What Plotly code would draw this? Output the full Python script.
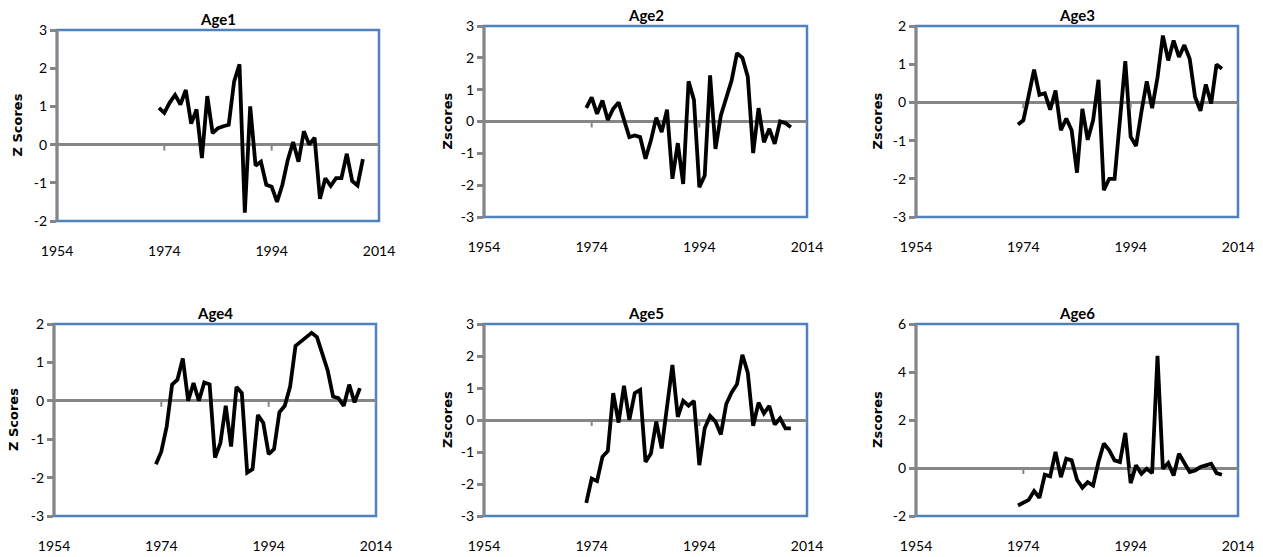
import plotly.graph_objects as go

# ----------------------------------------------------------------------
# data (z scores per age class, 1973-2011)
years = [1973, 1974, 1975, 1976, 1977, 1978, 1979, 1980, 1981, 1982,
         1983, 1984, 1985, 1986, 1987, 1988, 1989, 1990, 1991, 1992,
         1993, 1994, 1995, 1996, 1997, 1998, 1999, 2000, 2001, 2002,
         2003, 2004, 2005, 2006, 2007, 2008, 2009, 2010, 2011]

age1 = [0.96, 0.83, 1.1, 1.3, 1.05, 1.43, 0.55, 0.92, -0.35, 1.27,
        0.3, 0.43, 0.48, 0.52, 1.65, 2.1, -1.78, 1.0, -0.55, -0.45,
        -1.05, -1.1, -1.5, -1.05, -0.4, 0.07, -0.45, 0.35, 0.0, 0.18,
        -1.42, -0.88, -1.08, -0.88, -0.88, -0.24, -0.95, -1.07, -0.38]

age2 = [0.43, 0.76, 0.24, 0.66, 0.05, 0.4, 0.6, 0.08, -0.49, -0.44,
        -0.49, -1.17, -0.6, 0.12, -0.33, 0.37, -1.8, -0.68, -1.96, 1.26,
        0.68, -2.06, -1.7, 1.45, -0.86, 0.19, 0.76, 1.29, 2.15, 2.0,
        1.41, -0.99, 0.42, -0.65, -0.23, -0.7, 0.0, -0.05, -0.18]

age3 = [-0.58, -0.47, 0.18, 0.86, 0.2, 0.24, -0.19, 0.31, -0.73, -0.42,
        -0.73, -1.84, -0.17, -0.98, -0.47, 0.59, -2.3, -2.0, -2.0, -0.45,
        1.08, -0.9, -1.14, -0.25, 0.55, -0.15, 0.65, 1.75, 1.1, 1.62,
        1.19, 1.5, 1.14, 0.14, -0.22, 0.47, -0.03, 0.99, 0.88]

age4 = [-1.65, -1.32, -0.67, 0.42, 0.55, 1.1, 0.0, 0.46, 0.0, 0.48,
        0.43, -1.48, -1.1, -0.13, -1.19, 0.36, 0.2, -1.87, -1.78, -0.37,
        -0.58, -1.39, -1.26, -0.3, -0.13, 0.37, 1.43, 1.55, 1.65, 1.77,
        1.66, 1.2, 0.79, 0.11, 0.07, -0.13, 0.42, -0.04, 0.33]

age5 = [-2.59, -1.83, -1.91, -1.15, -0.97, 0.84, -0.08, 1.07, 0.0, 0.84,
        0.94, -1.31, -1.05, -0.05, -0.89, 0.52, 1.72, 0.1, 0.6, 0.45,
        0.6, -1.41, -0.26, 0.13, -0.05, -0.45, 0.5, 0.86, 1.12, 2.04,
        1.48, -0.18, 0.54, 0.21, 0.44, -0.14, 0.05, -0.26, -0.26]

age6 = [-1.56, -1.46, -1.33, -0.96, -1.24, -0.28, -0.35, 0.67, -0.38, 0.39,
        0.32, -0.49, -0.82, -0.59, -0.73, 0.25, 1.02, 0.74, 0.32, 0.25,
        1.46, -0.63, 0.11, -0.24, -0.03, -0.21, 4.67, -0.03, 0.21, -0.31,
        0.6, 0.21, -0.17, -0.1, 0.04, 0.11, 0.18, -0.21, -0.28]

series = [age1, age2, age3, age4, age5, age6]
panel_titles = ["Age1", "Age2", "Age3", "Age4", "Age5", "Age6"]
y_titles = ["Z Scores", "Zscores", "Zscores", "Z Scores", "Zscores", "Zscores"]
x_ticks = [1954, 1974, 1994, 2014]
y_ticks = [[-2, -1, 0, 1, 2, 3],
           [-3, -2, -1, 0, 1, 2, 3],
           [-3, -2, -1, 0, 1, 2],
           [-3, -2, -1, 0, 1, 2],
           [-3, -2, -1, 0, 1, 2, 3],
           [-2, 0, 2, 4, 6]]

# ----------------------------------------------------------------------
W, H = 1263, 557
# plot boxes in pixels: left, right, top, bottom
boxes = [(57, 379, 30, 221), (484, 807, 26, 217), (916, 1238, 26, 217),
         (54, 376, 324, 516), (484, 807, 324, 516), (916, 1238, 324, 516)]
ytitle_x = [17, 447, 877, 13, 447, 877]

gray = "#868686"
blue = "#4F81BD"
font = "Lato"

fig = go.Figure()
shapes, annotations = [], []
layout = {}

for i in range(6):
    n = "" if i == 0 else str(i + 1)
    x0, x1, top, bot = boxes[i]
    fig.add_trace(go.Scatter(x=years, y=series[i], mode="lines",
                             line=dict(color="black", width=3.8),
                             xaxis="x" + n, yaxis="y" + n, showlegend=False))
    yt = y_ticks[i]
    layout["xaxis" + n] = dict(
        domain=[x0 / W, x1 / W], range=[x_ticks[0], x_ticks[-1]], anchor="y" + n,
        tickvals=x_ticks, ticktext=[str(t) for t in x_ticks], automargin=False,
        ticks="outside", ticklen=17, tickcolor="rgba(0,0,0,0)",
        showline=False, zeroline=False, showgrid=False,
        tickfont=dict(family=font, size=14, color="black"))
    layout["yaxis" + n] = dict(
        domain=[1 - bot / H, 1 - top / H], range=[yt[0], yt[-1]], anchor="x" + n,
        tickvals=yt, ticktext=[str(t) for t in yt], automargin=False,
        ticks="outside", ticklen=6, tickwidth=3, tickcolor=gray,
        showline=False,
        zeroline=True, zerolinecolor=gray, zerolinewidth=3, showgrid=False,
        tickfont=dict(family=font, size=14, color="black"))

    # blue plot-area border, then the gray value axis on its left side
    shapes.append(dict(type="rect", xref="x" + n + " domain", yref="y" + n + " domain",
                       x0=0, x1=1, y0=0, y1=1, line=dict(color=blue, width=2.5),
                       layer="below"))
    shapes.append(dict(type="line", xref="x" + n + " domain", yref="y" + n + " domain",
                       x0=0, x1=0, y0=0, y1=1, line=dict(color=gray, width=3),
                       layer="above"))
    # small tick marks hanging under the zero line
    for t in x_ticks:
        shapes.append(dict(type="line", xref="x" + n, yref="y" + n,
                           x0=t, x1=t, ysizemode="pixel", yanchor=0, y0=0, y1=-6,
                           line=dict(color=gray, width=2)))

    annotations.append(dict(text="<b>" + panel_titles[i] + "</b>", xref="paper", yref="paper",
                            x=(x0 + x1) / 2 / W, y=1 - top / H, xanchor="center",
                            yanchor="bottom", showarrow=False,
                            font=dict(family=font, size=15, color="black")))
    annotations.append(dict(text="<b>" + y_titles[i] + "</b>", xref="paper", yref="paper",
                            x=ytitle_x[i] / W, y=1 - (top + bot) / 2 / H, xanchor="center",
                            yanchor="middle", textangle=-90, showarrow=False,
                            font=dict(family="DejaVu Sans", size=13, color="black")))

fig.update_layout(width=W, height=H, margin=dict(l=0, r=0, t=0, b=0),
                  paper_bgcolor="white", plot_bgcolor="white", hovermode=False,
                  shapes=shapes, annotations=annotations, **layout)

# drop the browser's default 8px body margin so the figure sits at the window corner
fig.write_html("out.html", config={"staticPlot": True},
               post_script="document.body.style.margin = '0px';")
